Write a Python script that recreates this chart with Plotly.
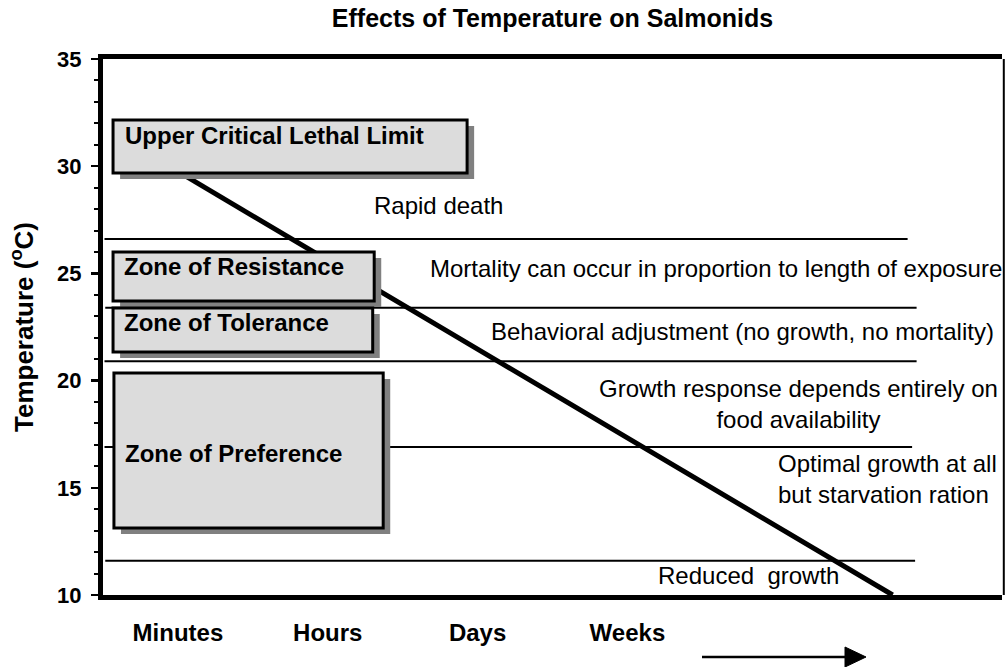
import plotly.graph_objects as go

# ---------------- data ----------------
time_categories = ["Minutes", "Hours", "Days", "Weeks"]
time_positions = [0.5, 1.5, 2.5, 3.5]

# temperature boundaries between zones (deg C)
zone_boundaries = [26.6, 23.4, 20.9, 16.9, 11.6]

# lethal temperature vs. exposure time
lethal_time = [0.44, 5.27]
lethal_temp = [30, 10]

zone_names = [
    "Upper Critical Lethal Limit",
    "Zone of Resistance",
    "Zone of Tolerance",
    "Zone of Preference",
]

effect_texts = [
    "Rapid death",
    "Mortality can occur in proportion to length of exposure",
    "Behavioral adjustment (no growth, no mortality)",
    "Growth response depends entirely on<br>food availability",
    "Optimal growth at all<br>but starvation ration",
    "Reduced  growth",
]

# ---------------- layout / positions ----------------
boundary_start = [0.01, 0.015, 0.01, 0.01, 0.015]
boundary_end = [5.37, 5.43, 5.43, 5.40, 5.42]

box_x0 = [0.067, 0.067, 0.067, 0.073]
box_x1 = [2.43, 1.81, 1.80, 1.87]
box_y0 = [29.68, 23.71, 21.33, 13.13]
box_y1 = [32.15, 26.0, 23.39, 20.35]
box_label_x = [0.134, 0.127, 0.127, 0.134]
box_label_y = [31.45, 25.30, 22.69, 16.62]
shadow_dx, shadow_dy = 0.047, 0.28

effect_x = [2.24, 4.09, 4.27, 4.64, 4.49, 4.31]
effect_y = [28.19, 25.25, 22.27, 18.89, 15.43, 10.89]
effect_anchor = ["center", "center", "center", "center", "left", "center"]
effect_align = ["center", "center", "center", "center", "left", "center"]

FONT = "Liberation Sans, Arial, sans-serif"

fig = go.Figure()

for t, xs, xe in zip(zone_boundaries, boundary_start, boundary_end):
    fig.add_trace(go.Scatter(x=[xs, xe], y=[t, t], mode="lines",
                             line=dict(color="black", width=2),
                             hoverinfo="skip", showlegend=False))

fig.add_trace(go.Scatter(x=lethal_time, y=lethal_temp, mode="lines",
                         line=dict(color="black", width=5),
                         hoverinfo="skip", showlegend=False))

shapes = []
for x0, x1, y0, y1 in zip(box_x0, box_x1, box_y0, box_y1):
    shapes.append(dict(type="rect", xref="x", yref="y", layer="above",
                       x0=x0 + shadow_dx, x1=x1 + shadow_dx,
                       y0=y0 - shadow_dy, y1=y1 - shadow_dy,
                       fillcolor="#808080", line=dict(width=0)))
    shapes.append(dict(type="rect", xref="x", yref="y", layer="above",
                       x0=x0, x1=x1, y0=y0, y1=y1,
                       fillcolor="#dcdcdc", line=dict(color="black", width=3)))
# thin right frame line
shapes.append(dict(type="line", xref="paper", yref="paper", x0=1.002, x1=1.002,
                   y0=0, y1=1, line=dict(color="black", width=2)))

# time arrow (below the axis), in paper coordinates
PW, PH = 899.0, 536.0
def px_x(p):
    return (p - 103) / PW
def px_y(p):
    return (595 - p) / PH

shapes.append(dict(type="line", xref="paper", yref="paper",
                   x0=px_x(702), x1=px_x(850), y0=px_y(657), y1=px_y(657),
                   line=dict(color="black", width=2.5)))
shapes.append(dict(type="path", xref="paper", yref="paper",
                   path=(f"M {px_x(845)} {px_y(647)} L {px_x(866)} {px_y(657)} "
                         f"L {px_x(845)} {px_y(667)} Z"),
                   fillcolor="black", line=dict(color="black", width=1)))

annotations = []
for name, lx, ly in zip(zone_names, box_label_x, box_label_y):
    annotations.append(dict(x=lx, y=ly, xref="x", yref="y", text=name,
                            showarrow=False, xanchor="left", yanchor="middle",
                            font=dict(family=FONT, size=24, color="black", weight="bold")))
for txt, ex, ey, anc, al in zip(effect_texts, effect_x, effect_y, effect_anchor, effect_align):
    annotations.append(dict(x=ex, y=ey, xref="x", yref="y", text=txt,
                            showarrow=False, xanchor=anc, yanchor="middle", align=al,
                            font=dict(family=FONT, size=24, color="black")))

fig.update_layout(
    width=1005, height=667,
    margin=dict(l=103, r=3, t=59, b=72, pad=0),
    paper_bgcolor="white", plot_bgcolor="white",
    showlegend=False,
    title=dict(text="Effects of Temperature on Salmonids", x=0.5, xref="paper",
               xanchor="center", y=1 - 18 / 667, yref="container", yanchor="middle",
               font=dict(family=FONT, size=25, color="black", weight="bold")),
    shapes=shapes,
    annotations=annotations,
    xaxis=dict(range=[0, 6], showgrid=False, zeroline=False,
               showline=True, linewidth=5, linecolor="black", mirror=True,
               tickmode="array", tickvals=time_positions, ticktext=time_categories,
               ticks="", ticklabelstandoff=12,
               tickfont=dict(family=FONT, size=24, color="black", weight="bold"),
               fixedrange=True),
    yaxis=dict(range=[10, 35], tick0=10, dtick=5, showgrid=False, zeroline=False,
               showline=True, linewidth=5, linecolor="black",
               ticks="outside", ticklen=7, tickwidth=2.5, tickcolor="black",
               ticklabelstandoff=5,
               minor=dict(dtick=1, ticks="outside", ticklen=4, tickwidth=2,
                          tickcolor="black", showgrid=False),
               tickfont=dict(family=FONT, size=22, color="black", weight="bold"),
               title=dict(text="Temperature (<sup>o</sup>C)", standoff=18,
                          font=dict(family=FONT, size=26, color="black", weight="bold")),
               fixedrange=True),
)

fig.write_html("out.html",
               config={"displayModeBar": False, "staticPlot": True},
               post_script="document.body.style.margin='0';"
                           "document.body.style.padding='0';")
